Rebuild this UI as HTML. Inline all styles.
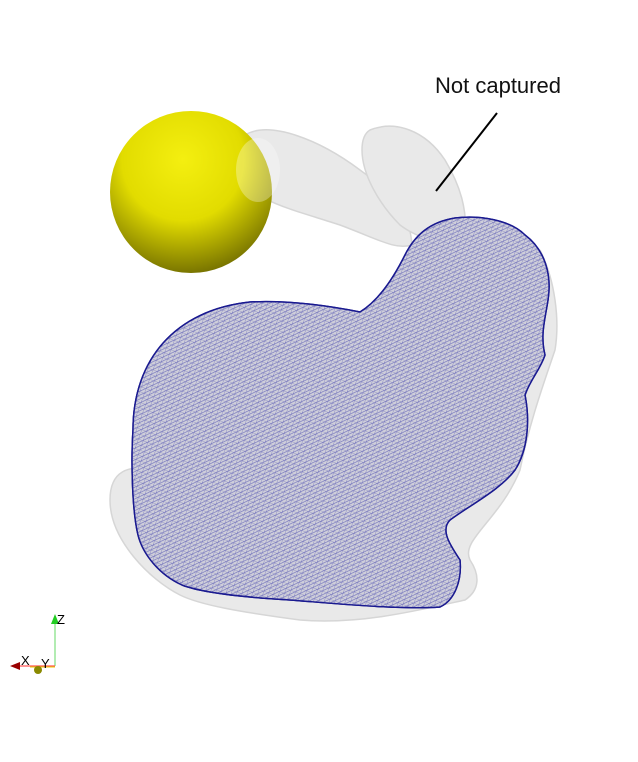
<!DOCTYPE html>
<html><head><meta charset="utf-8"><style>
html,body{margin:0;padding:0;background:#fff;}
svg{display:block;}
</style></head><body>
<svg width="638" height="762" viewBox="0 0 638 762">
<defs>
<radialGradient id="sph" cx="0.45" cy="0.3" r="0.75">
<stop offset="0" stop-color="#f4ef10"/><stop offset="0.5" stop-color="#e2dc00"/><stop offset="1" stop-color="#6a6600"/>
</radialGradient>
<pattern id="mesh" width="5" height="5" patternUnits="userSpaceOnUse" patternTransform="rotate(20)">
<rect width="5" height="5" fill="#cfcfda"/>
<path d="M0 0L5 0M0 0L0 5M0 5L5 0" stroke="#3434a8" stroke-width="0.6" opacity="0.7"/>
</pattern>
<radialGradient id="shade" cx="0.45" cy="0.4" r="0.7">
<stop offset="0" stop-color="#fff" stop-opacity="0.15"/><stop offset="1" stop-color="#000" stop-opacity="0.15"/>
</radialGradient>
</defs>
<g fill="#e6e6e6" stroke="#cfcfcf" stroke-width="1.5" opacity="0.85">
<path d="M245 135 C270 120 320 140 360 170 C395 195 410 215 412 245 C395 250 380 240 340 225 C295 210 245 200 237 170 C233 150 238 140 245 135Z"/>
<path d="M370 130 C395 120 425 130 445 160 C460 185 468 210 465 240 C445 245 420 240 400 225 C380 205 362 175 362 150 C362 140 365 133 370 130Z"/>
<path d="M110 500 C110 470 130 465 150 470 L470 460 C520 470 560 300 540 250 C555 280 560 320 555 350 C545 380 530 420 520 470 C500 520 460 540 470 560 C480 575 480 590 465 600 C420 610 360 625 300 620 C240 612 200 605 180 595 C150 580 110 540 110 500Z"/>
</g>
<g>
<path id="bun" d="M133 430 C133 360 175 310 250 302 C290 300 330 306 360 312 C380 300 395 275 405 255 C415 235 430 222 455 218 C480 215 510 220 525 235 C545 250 552 275 548 300 C545 320 540 335 545 355 C540 370 530 380 525 395 C530 420 528 450 515 470 C500 490 470 505 450 520 C440 530 450 545 460 560 C462 580 455 600 440 607 C400 610 330 603 290 600 C240 597 200 592 182 585 C160 575 143 555 138 535 C132 510 131 460 133 430Z" fill="url(#mesh)" stroke="#1a1a90" stroke-width="1.5"/>
<use href="#bun" fill="url(#shade)" stroke="none"/>
</g>
<circle cx="191" cy="192" r="81" fill="url(#sph)"/>
<ellipse cx="258" cy="170" rx="22" ry="32" fill="#fff" opacity="0.3"/>
<text x="435" y="93" font-family="Liberation Sans, sans-serif" font-size="22" fill="#111">Not captured</text>
<line x1="497" y1="113" x2="436" y2="191" stroke="#000" stroke-width="2"/>
<g font-family="Liberation Sans, sans-serif" font-size="13" fill="#000">
<line x1="55" y1="666" x2="55" y2="622" stroke="#7fe07f" stroke-width="1.2"/>
<polygon points="51,624 59,624 55,614" fill="#22cc22"/>
<text x="57" y="624">Z</text>
<line x1="55" y1="666" x2="18" y2="666" stroke="#ff5555" stroke-width="1.2"/>
<line x1="30" y1="667" x2="55" y2="667" stroke="#e8c800" stroke-width="1"/>
<polygon points="10,666 20,662 20,670" fill="#990000"/>
<text x="21" y="665">X</text>
<text x="41" y="668">Y</text>
<circle cx="38" cy="670" r="4" fill="#8a8a00"/>
</g>
</svg>
</body></html>
